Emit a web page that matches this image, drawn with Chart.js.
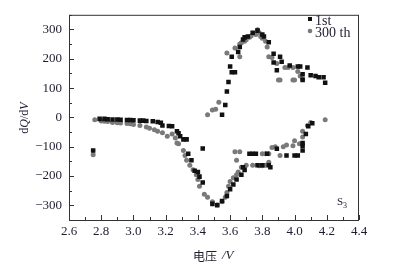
<!DOCTYPE html>
<html>
<head>
<meta charset="utf-8">
<script src="https://cdn.jsdelivr.net/npm/chart.js@4/dist/chart.umd.min.js"></script>
<style>
  html, body { margin: 0; padding: 0; background: #fff; }
</style>
</head>
<body>
<canvas id="dqdvChart" width="398" height="267"></canvas>
<script>
// 1st cycle (black squares)
const volt1st = [
    2.75, 2.79, 2.82, 2.84, 2.87, 2.90, 2.92, 2.96, 2.98, 3.00, 3.04, 3.06, 3.08, 3.12, 3.15, 3.17,
    3.18, 3.22, 3.24, 3.27, 3.28, 3.29, 3.31, 3.33, 3.34, 3.36, 3.38, 3.40, 3.41, 3.43, 3.43,
    3.49, 3.52, 3.55, 3.58, 3.60, 3.62, 3.64, 3.67, 3.69, 3.68,
    3.72, 3.74, 3.76, 3.83, 3.89, 3.95, 4.00, 4.02, 3.77, 3.80, 3.84, 3.85,
    4.05, 4.05, 4.05, 4.07, 4.085, 4.11,
    3.55, 3.57, 3.58, 3.59, 3.60, 3.61, 3.63, 3.61, 3.65, 3.66, 3.68, 3.69, 3.71, 3.74, 3.77,
    3.80, 3.81, 3.84, 3.87, 3.91, 3.87, 3.89, 3.92, 3.97, 4.02, 4.035, 4.08, 4.10, 4.13, 4.15,
    4.18, 4.19, 4.05, 4.05
];
const dqdv1st = [
    -113, -5, -5, -6, -7, -7, -8, -9, -9, -10, -11, -11, -12, -13, -16, -18,
    -28, -29, -30, -47, -54, -64, -75, -75, -124, -146, -182, -186, -202, -222, -106,
    -295, -300, -285, -268, -245, -229, -212, -196, -179, -170,
    -124, -124, -124, -124, -107, -130, -130, -130, -163, -163, -163, -170,
    -113, -97, -87, -57, -30, -20,
    9, 42, 88, 121, 174, 154, 154, 207, 223, 240, 266, 273, 276, 289, 296,
    283, 276, 256, 217, 207, 187, 161, 190, 177, 174, 174, 170, 144, 141, 137,
    137, 118, 147, 128
];

// 300th cycle (grey circles)
const volt300 = [
    2.75, 2.76, 2.80, 2.82, 2.84, 2.87, 2.90, 2.92, 2.96, 2.98, 3.00, 3.04, 3.08, 3.10, 3.13,
    3.15, 3.18, 3.21, 3.24, 3.26, 3.27, 3.28, 3.31, 3.32, 3.33, 3.35, 3.37, 3.39, 3.40, 3.41,
    3.44, 3.46, 3.49, 3.52, 3.55, 3.57, 3.58, 3.59, 3.60, 3.62, 3.64, 3.65, 3.67, 3.70, 3.74,
    3.63, 3.66, 3.64, 3.78, 3.80, 3.82, 3.84, 3.80, 3.82, 3.84, 3.86, 3.88, 3.91, 3.93, 3.95,
    3.99, 4.00, 4.03, 4.05, 4.05, 4.08, 4.10, 4.19,
    3.46, 3.49, 3.51, 3.53, 3.58, 3.63, 3.66, 3.66, 3.67, 3.69, 3.70, 3.72, 3.73, 3.75, 3.76,
    3.77, 3.78, 3.79, 3.80, 3.82, 3.83, 3.84, 3.86, 3.89, 3.90, 3.91, 3.94, 3.96, 3.99, 4.02,
    3.99, 4.00, 4.035, 4.05
];
const dqdv300 = [
    -127, -8, -12, -13, -14, -17, -18, -19, -21, -22, -24, -28, -33, -37, -42,
    -47, -52, -64, -57, -70, -87, -90, -113, -130, -146, -163, -179, -196, -212, -235,
    -262, -272, -288, -298, -288, -272, -256, -235, -219, -206, -196, -186, -170, -163, -163,
    -117, -117, -146, -165, -165, -163, -153, -124, -124, -124, -103, -100, -130, -100, -94,
    -97, -80, -90, -67, -47, -28, -17, -8,
    9, 25, 28, 52, 220, 237, 207, 250, 255, 260, 265, 273, 278, 285, 283,
    299, 290, 276, 270, 260, 240, 207, 204, 184, 128, 128, 170, 170, 170, 157,
    128, 128, 141, 131
];

const xTicks = [2.6, 2.8, 3.0, 3.2, 3.4, 3.6, 3.8, 4.0, 4.2, 4.4];
const yTicks = [-300, -200, -100, 0, 100, 200, 300];
const seriesNames = ['1st', '300 th'];

const textColor = '#1d1d30';
const serif = '"Liberation Serif", "DejaVu Serif", serif';

const toPoints = (xs, ys) => xs.map((x, i) => ({ x: x, y: ys[i] }));

// frame, inward ticks, axis titles, legend and the S3 label
const decorPlugin = {
    id: 'decor',
    afterDraw(chart) {
        const ctx = chart.ctx;
        const area = chart.chartArea;
        const xs = chart.scales.x;
        const ys = chart.scales.y;
        ctx.save();
        ctx.strokeStyle = '#333';
        ctx.lineWidth = 1;
        ctx.strokeRect(area.left + 0.5, area.top + 0.5, area.right - area.left - 1, area.bottom - area.top);

        ctx.beginPath();
        for (let v = 2.6; v <= 4.4001; v += 0.1) {
            const px = Math.round(xs.getPixelForValue(v)) + 0.5;
            const major = Math.abs(v * 5 - Math.round(v * 5)) < 1e-6;
            ctx.moveTo(px, area.bottom);
            ctx.lineTo(px, area.bottom - (major ? 5 : 3));
        }
        for (let v = -350; v <= 350; v += 50) {
            const py = Math.round(ys.getPixelForValue(v)) + 0.5;
            const major = v % 100 === 0;
            ctx.moveTo(area.left, py);
            ctx.lineTo(area.left + (major ? 5 : 3), py);
        }
        ctx.stroke();

        ctx.fillStyle = textColor;
        ctx.textBaseline = 'middle';

        // y title: dQ/dV
        const yParts = [['d', ''], ['Q', 'italic '], ['/d', ''], ['V', 'italic ']];
        ctx.save();
        ctx.translate(25, 118);
        ctx.rotate(-Math.PI / 2);
        let total = 0;
        yParts.forEach(p => { ctx.font = p[1] + '12px ' + serif; total += ctx.measureText(p[0]).width; });
        let cx = -total / 2;
        ctx.textAlign = 'left';
        yParts.forEach(p => {
            ctx.font = p[1] + '12px ' + serif;
            ctx.fillText(p[0], cx, 0);
            cx += ctx.measureText(p[0]).width;
        });
        ctx.restore();

        // x title: 电压 /V
        ctx.textAlign = 'left';
        ctx.font = '12px "Noto Sans CJK SC"';
        ctx.fillText('电压', 193, 256);
        ctx.font = 'italic 13px ' + serif;
        ctx.fillText('/V', 222, 256);

        // legend
        ctx.fillStyle = '#111';
        ctx.fillRect(308, 17, 4, 4);
        ctx.fillStyle = '#7a7a7a';
        ctx.beginPath();
        ctx.arc(310, 31, 2.3, 0, Math.PI * 2);
        ctx.fill();
        ctx.fillStyle = textColor;
        ctx.font = '14px ' + serif;
        ctx.fillText(seriesNames[0], 315, 21);
        ctx.fillText(seriesNames[1], 315, 33);

        // S3
        ctx.font = '11px ' + serif;
        ctx.fillText('S', 337, 202);
        ctx.font = '8px ' + serif;
        ctx.fillText('3', 343, 206);
        ctx.restore();
    }
};

new Chart(document.getElementById('dqdvChart'), {
    type: 'scatter',
    data: {
        datasets: [{
            label: seriesNames[0],
            data: toPoints(volt1st, dqdv1st),
            pointStyle: 'rect',
            pointRadius: 3.2,
            pointBorderWidth: 0,
            backgroundColor: '#111',
            borderColor: '#111'
        }, {
            label: seriesNames[1],
            data: toPoints(volt300, dqdv300),
            pointStyle: 'circle',
            pointRadius: 2.5,
            pointBorderWidth: 0,
            backgroundColor: '#7a7a7a',
            borderColor: '#7a7a7a'
        }]
    },
    options: {
        responsive: false,
        animation: false,
        devicePixelRatio: 1,
        layout: { padding: { top: 9, right: 39, left: 0, bottom: 0 } },
        plugins: {
            legend: { display: false },
            tooltip: { enabled: false }
        },
        scales: {
            x: {
                type: 'linear',
                min: 2.6,
                max: 4.4,
                grid: { display: false, drawTicks: false },
                border: { display: false },
                afterBuildTicks: (s) => { s.ticks = xTicks.map(v => ({ value: v })); },
                afterFit: (s) => { s.height = 47; },
                ticks: {
                    color: textColor,
                    padding: 4,
                    maxRotation: 0,
                    font: { family: serif, size: 13 },
                    callback: (v) => Number(v).toFixed(1)
                }
            },
            y: {
                min: -350,
                max: 350,
                grid: { display: false, drawTicks: false },
                border: { display: false },
                afterBuildTicks: (s) => { s.ticks = yTicks.map(v => ({ value: v })); },
                afterFit: (s) => { s.width = 69; },
                ticks: {
                    color: textColor,
                    padding: 7,
                    font: { family: serif, size: 13 },
                    callback: (v) => v < 0 ? '\u2212' + Math.abs(v) : String(v)
                }
            }
        }
    },
    plugins: [decorPlugin]
});
</script>
</body>
</html>
